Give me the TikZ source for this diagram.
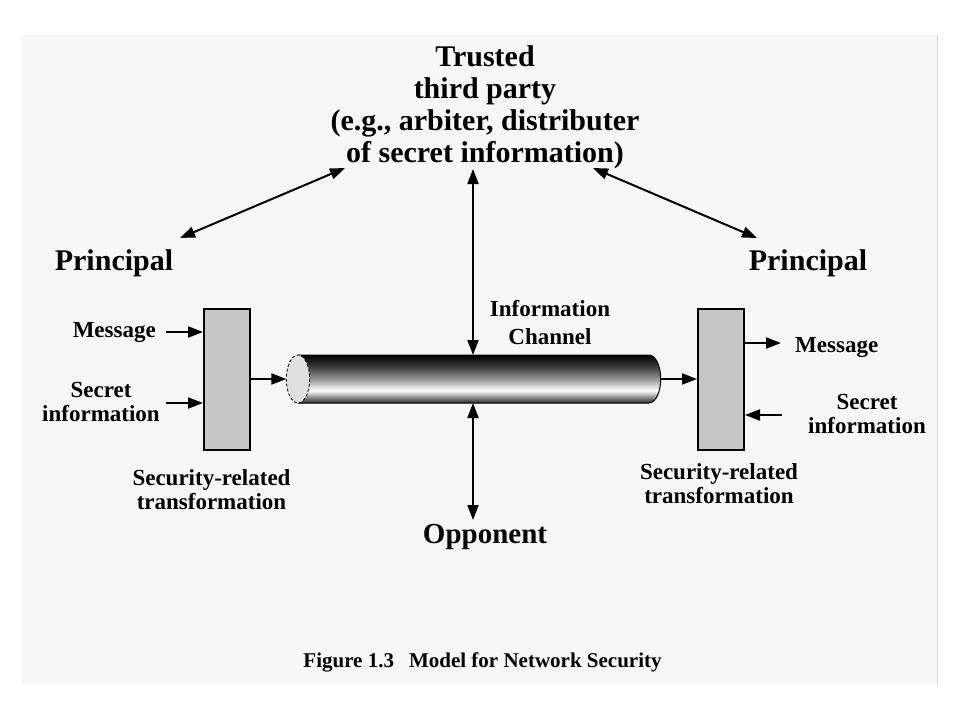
\documentclass[tikz,border=0pt]{standalone}
\usepackage{fontspec}
\setmainfont{Liberation Serif}
\usetikzlibrary{arrows.meta}
\definecolor{bg}{HTML}{F7F7F7}
\definecolor{boxgray}{HTML}{C6C6C6}
\definecolor{endgray}{HTML}{E0E0E0}
\pgfdeclareverticalshading{tube}{100bp}{color(0bp)=(black!85); color(25bp)=(black!85); color(31bp)=(black!45); color(38bp)=(white); color(48bp)=(black!35); color(62bp)=(black!75); color(75bp)=(black); color(100bp)=(black)}
\begin{document}
\begin{tikzpicture}[x=1pt,y=-1pt,
  tbox/.style={draw=black, line width=2pt, fill=boxgray, minimum width=46pt, minimum height=141pt, inner sep=0pt},
  arr/.style={line width=2pt, -{Triangle[length=15pt,width=11pt]}},
  darr/.style={line width=2pt, {Triangle[length=15pt,width=11pt]}-{Triangle[length=15pt,width=11pt]}},
  big/.style={font=\bfseries\fontsize{30}{32}\selectfont, align=center, inner sep=0pt},
  prin/.style={font=\bfseries\fontsize{30}{32}\selectfont, inner sep=0pt},
  lab/.style={font=\bfseries\fontsize{23}{23}\selectfont, align=center, inner sep=0pt},
  captext/.style={font=\bfseries\fontsize{21}{24}\selectfont, inner sep=0pt}]
\useasboundingbox (0,0) rectangle (960,720);
\fill[white] (0,0) rectangle (960,720);
\fill[bg] (22,35) rectangle (937,684);
\draw[black!15, line width=1pt] (937,35) -- (937,684);

% title
\node[big, anchor=north] (ttp) at (485,43.6) {\strut Trusted\\third party\\(e.g., arbiter, distributer\\of secret information)};
\node[prin, anchor=base] (pl) at (114,270) {Principal};
\node[prin, anchor=base] (pr) at (808,270) {Principal};

% boxes
\node[tbox] (lbox) at (227,379.5) {};
\node[tbox] (rbox) at (721,379.5) {};

% cylinder
\path[shading=tube, draw=black, line width=1pt] (298,355) -- (649,355) arc[start angle=-90, end angle=90, x radius=11.7, y radius=24] -- (298,403) -- cycle;
\draw[fill=endgray, line width=0.8pt, densely dashed] (298,379) ellipse[x radius=11.7, y radius=24];
\coordinate (cylL) at (286.3,379);
\coordinate (cylR) at (660.7,379);
\coordinate (cylT) at (473,355);
\coordinate (cylB) at (473,403);

% labels
\node[lab, anchor=base east] (msgl) at (156,337) {Message};
\node[lab, anchor=north] (secl) at (101,380.9) {\strut Secret\\information};
\node[lab, anchor=base west] (msgr) at (795,352) {Message};
\node[lab, anchor=north] (secr) at (867,392.9) {\strut Secret\\information};
\node[lab, anchor=north] (srl) at (211.5,468.9) {\strut Security-related\\transformation};
\node[lab, anchor=north] (srr) at (719,462.9) {\strut Security-related\\transformation};
\node[lab, anchor=north, font=\bfseries\fontsize{23}{28}\selectfont] (chan) at (550,296.4) {\strut Information\\Channel};
\node[font=\bfseries\fontsize{29}{32}\selectfont, inner sep=0pt, anchor=base] (opp) at (485,543) {Opponent};
\node[captext, anchor=base] (caption) at (482.5,667) {Figure 1.3\hspace{15pt}Model for Network Security};

% arrow end coordinates
\coordinate (ttpB) at (473,169);
\coordinate (oppT) at (473,520);
\coordinate (dl1) at (180,238);
\coordinate (dl2) at (345,168);
\coordinate (dr1) at (593,168);
\coordinate (dr2) at (757,238);
\coordinate (mL) at (166,332);
\coordinate (sL) at (166,403);
\coordinate (mR) at (781,343);
\coordinate (sR) at (782,415);

% connectors
\draw[darr] (dl1) -- (dl2);
\draw[darr] (dr1) -- (dr2);
\draw[darr] (ttpB) -- (cylT);
\draw[darr] (cylB) -- (oppT);
\draw[arr] (mL) -- (mL -| lbox.west);
\draw[arr] (sL) -- (sL -| lbox.west);
\draw[arr] (cylL -| lbox.east) -- (cylL);
\draw[arr] (cylR) -- (cylR -| rbox.west);
\draw[arr] (mR -| rbox.east) -- (mR);
\draw[arr] (sR) -- (sR -| rbox.east);
\end{tikzpicture}
\end{document}
